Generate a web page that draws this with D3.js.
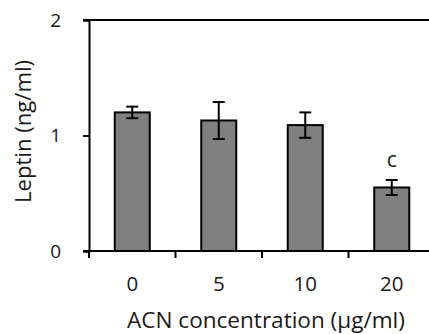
<!DOCTYPE html>
<html><head><meta charset="utf-8">
<script src="https://cdn.jsdelivr.net/npm/d3@7"></script>
<style>body{margin:0;background:#fff;}svg{display:block;}</style>
</head><body>
<script>
const categories = ["0", "5", "10", "20"];
const means = [1.20, 1.13, 1.09, 0.55];
const errors = [0.05, 0.16, 0.11, 0.065];
const labels = ["", "", "", "c"];
const yTicks = [0, 1, 2];

const W = 429, H = 334;
const svg = d3.select("body").append("svg").attr("width", W).attr("height", H);
const font = "'Open Sans', sans-serif";
const txt = "#1a1a1a";
const x0 = 89, plotW = 346;
const xb = d3.scaleBand().domain(categories).range([x0, x0 + plotW]);
const y = d3.scaleLinear().domain([0, 2]).range([251, 20]);

function fit(sel, target) {
  const len = sel.node().getComputedTextLength();
  const fs = parseFloat(sel.attr("font-size"));
  sel.attr("font-size", (fs * target / len).toFixed(2));
}

// top line
svg.append("line").attr("x1", 83).attr("x2", W).attr("y1", y(2)).attr("y2", y(2))
  .attr("stroke", "#000").attr("stroke-width", 2);

// bars
svg.selectAll("rect.bar").data(categories).join("rect")
  .attr("x", d => xb(d) + xb.bandwidth()/2 - 17.5)
  .attr("width", 35)
  .attr("y", (d,i) => y(means[i]))
  .attr("height", (d,i) => y(0) - y(means[i]))
  .attr("fill", "#808080").attr("stroke", "#000").attr("stroke-width", 2);

// error bars
const eb = svg.append("g").attr("stroke", "#000").attr("stroke-width", 2);
categories.forEach((c, i) => {
  const cx = xb(c) + xb.bandwidth()/2;
  eb.append("line").attr("x1", cx).attr("x2", cx).attr("y1", y(means[i]+errors[i])).attr("y2", y(means[i]-errors[i]));
  [means[i]+errors[i], means[i]-errors[i]].forEach(v => {
    eb.append("line").attr("x1", cx-6).attr("x2", cx+6).attr("y1", y(v)).attr("y2", y(v));
  });
  if (labels[i]) {
    svg.append("text").attr("x", cx).attr("y", y(means[i]+errors[i]) - 13)
      .attr("text-anchor", "middle").attr("font-family", font).attr("font-size", 21).attr("fill", txt).text(labels[i]);
  }
});

// y axis
const yAxis = d3.axisLeft(y).tickValues(yTicks).tickFormat(d3.format("d")).tickSize(6).tickPadding(22);
const gy = svg.append("g").attr("transform", `translate(${x0},0)`).call(yAxis);
gy.select(".domain").attr("stroke-width", 2);
gy.selectAll(".tick line").attr("stroke-width", 2);
gy.selectAll("text").attr("font-family", font).attr("font-size", 19).attr("fill", txt);

// x axis
const xAxis = d3.axisBottom(xb).tickSize(0).tickPadding(25);
const gx = svg.append("g").attr("transform", `translate(0,${y(0)})`).call(xAxis);
gx.select(".domain").remove();
gx.selectAll("text").attr("font-family", font).attr("font-size", 20.5).attr("fill", txt);
svg.append("line").attr("x1", 83).attr("x2", W).attr("y1", y(0)).attr("y2", y(0)).attr("stroke", "#000").attr("stroke-width", 2);
// boundary ticks
svg.selectAll("line.bt").data(categories).join("line")
  .attr("x1", d => xb(d)).attr("x2", d => xb(d))
  .attr("y1", y(0)).attr("y2", y(0) + 7)
  .attr("stroke", "#000").attr("stroke-width", 2);

// axis titles
const xt = svg.append("text").attr("x", 266).attr("y", 328).attr("text-anchor", "middle")
  .attr("font-family", font).attr("font-size", 20).attr("fill", txt).text("ACN concentration (µg/ml)");
fit(xt, 278);
const yt = svg.append("text").attr("transform", "translate(31,131.5) rotate(-90)").attr("text-anchor", "middle")
  .attr("font-family", font).attr("font-size", 20).attr("fill", txt).text("Leptin (ng/ml)");
fit(yt, 143);
</script>
</body></html>
